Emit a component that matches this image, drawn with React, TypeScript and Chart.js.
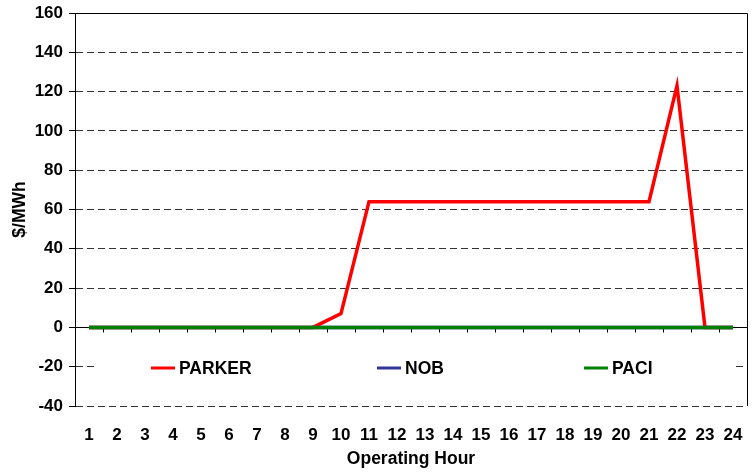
import React, { useEffect, useRef } from "react";
import { Chart, registerables } from "chart.js";

Chart.register(...registerables);

const hours = ["1","2","3","4","5","6","7","8","9","10","11","12","13","14","15","16","17","18","19","20","21","22","23","24"];
const parker = [0,0,0,0,0,0,0,0,0,7,64,64,64,64,64,64,64,64,64,64,64,123,0,0];
const nob = [0,0,0,0,0,0,0,0,0,0,0,0,0,0,0,0,0,0,0,0,0,0,0,0];
const paci = [0,0,0,0,0,0,0,0,0,0,0,0,0,0,0,0,0,0,0,0,0,0,0,0];
const seriesNames = ["PARKER", "NOB", "PACI"];
const seriesColors = ["#FF0000", "#333399", "#008000"];
const yMin = -40;
const yMax = 160;
const yStep = 20;

const FONT = "'Liberation Sans', Arial, Helvetica, sans-serif";

const framePlugin = {
  id: "frame",
  beforeDatasetsDraw(chart: any) {
    const { ctx, chartArea, scales } = chart;
    const { left, right, top, bottom } = chartArea;
    const x = scales.x;
    const y = scales.y;
    const y0 = Math.round(y.getPixelForValue(0)) + 0.5;
    ctx.save();
    ctx.setLineDash([]);
    ctx.strokeStyle = "#000";
    ctx.lineWidth = 1;
    ctx.beginPath();
    ctx.moveTo(left, Math.round(top) + 0.5);
    ctx.lineTo(Math.round(right) + 0.5, Math.round(top) + 0.5);
    ctx.lineTo(Math.round(right) + 0.5, bottom);
    ctx.stroke();
    ctx.beginPath();
    ctx.moveTo(left, y0);
    ctx.lineTo(right, y0);
    ctx.stroke();
    ctx.beginPath();
    for (let i = 1; i < hours.length; i++) {
      const px = Math.round((x.getPixelForValue(i - 1) + x.getPixelForValue(i)) / 2) + 0.5;
      ctx.moveTo(px, y0);
      ctx.lineTo(px, y0 + 5);
    }
    ctx.stroke();
    ctx.restore();
  },
  afterDatasetsDraw(chart: any) {
    const { ctx, chartArea, scales } = chart;
    const { left, right } = chartArea;
    const y = scales.y;
    const cy = Math.round(y.getPixelForValue(-20)) + 1;
    ctx.save();
    ctx.fillStyle = "#fff";
    ctx.fillRect(left + 21, cy - 18, right - left - 32, 36);
    const starts = [151, 377, 584];
    ctx.font = `bold 17.5px ${FONT}`;
    ctx.textBaseline = "middle";
    ctx.textAlign = "left";
    for (let i = 0; i < seriesNames.length; i++) {
      const sx = starts[i];
      ctx.strokeStyle = seriesColors[i];
      ctx.lineWidth = 3;
      ctx.setLineDash([]);
      ctx.beginPath();
      ctx.moveTo(sx, cy);
      ctx.lineTo(sx + 24, cy);
      ctx.stroke();
      ctx.fillStyle = "#000";
      ctx.fillText(seriesNames[i], sx + 28, cy + 1);
    }
    ctx.restore();
  },
};

export default function App() {
  const ref = useRef<HTMLCanvasElement | null>(null);
  useEffect(() => {
    if (!ref.current) return;
    const chart = new Chart(ref.current, {
      type: "line",
      data: {
        labels: hours,
        datasets: [
          { label: seriesNames[0], data: parker, borderColor: seriesColors[0], backgroundColor: seriesColors[0], borderWidth: 3.5, pointRadius: 0, tension: 0, order: 2 },
          { label: seriesNames[1], data: nob, borderColor: seriesColors[1], backgroundColor: seriesColors[1], borderWidth: 3.5, pointRadius: 0, tension: 0, order: 1 },
          { label: seriesNames[2], data: paci, borderColor: seriesColors[2], backgroundColor: seriesColors[2], borderWidth: 3.5, pointRadius: 0, tension: 0, order: 0 },
        ],
      },
      options: {
        animation: false,
        responsive: false,
        maintainAspectRatio: false,
        layout: { padding: { top: 13, right: 8, left: 0, bottom: 0 } },
        plugins: { legend: { display: false }, tooltip: { enabled: false }, title: { display: false } },
        scales: {
          x: {
            type: "category",
            offset: true,
            grid: { display: false, drawTicks: false },
            border: { display: false },
            ticks: { color: "#000", font: { family: FONT, size: 17, weight: "bold" }, padding: 19, maxRotation: 0, autoSkip: false },
            title: { display: true, text: "Operating Hour", color: "#000", font: { family: FONT, size: 17.5, weight: "bold" }, padding: { top: 3, bottom: 3 } },
            afterFit: (s: any) => { s.height = 67; s.paddingLeft = 0; s.paddingRight = 0; },
          },
          y: {
            min: yMin,
            max: yMax,
            grid: { color: "#333", lineWidth: 1, drawTicks: true, tickLength: 6, tickColor: "#000", tickBorderDash: [] },
            border: { display: true, color: "#000", width: 1, dash: [7, 4] },
            ticks: { stepSize: yStep, color: "#000", font: { family: FONT, size: 17, weight: "bold" }, padding: 6 },
            title: { display: true, text: "$/MWh", color: "#000", font: { family: FONT, size: 17.5, weight: "bold" }, padding: { top: 10, bottom: 0 } },
            afterFit: (s: any) => { s.width = 75; s.paddingTop = 0; s.paddingBottom = 0; },
          },
        },
      },
      plugins: [framePlugin],
    });
    return () => chart.destroy();
  }, []);
  return (
    <div style={{ position: "absolute", left: 0, top: 0, width: 755, height: 473, background: "#fff" }}>
      <canvas ref={ref} width={755} height={473} style={{ display: "block", width: 755, height: 473 }} />
    </div>
  );
}
